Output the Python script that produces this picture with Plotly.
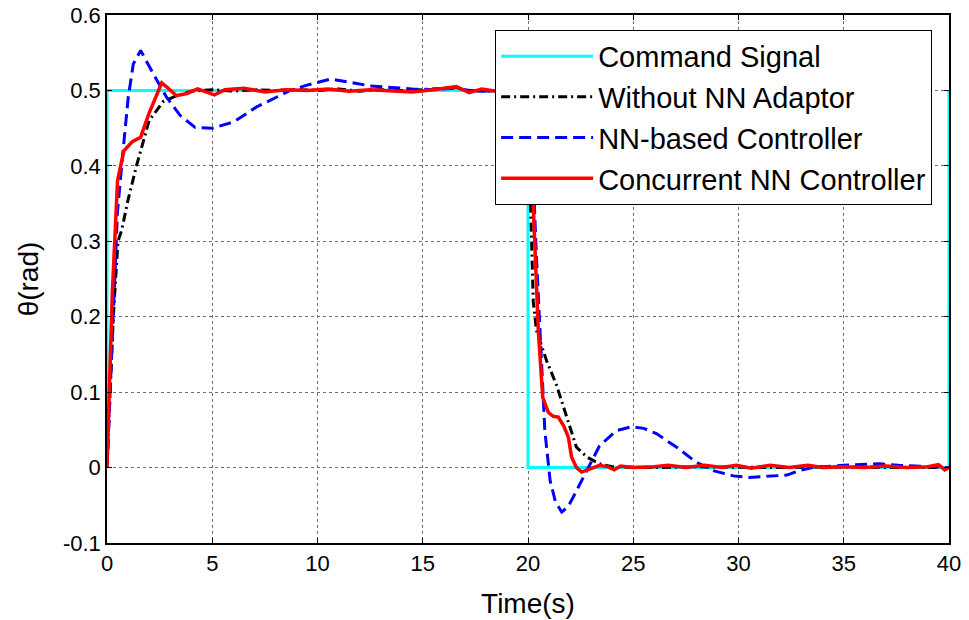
import plotly.graph_objects as go

# ---------------- data ----------------
cmd_t = [0, 0, 20, 20, 40, 40]
cmd_y = [0, 0.5, 0.5, 0, 0, 0.5]

wo_t = [0, 0.15, 0.3, 0.52, 0.7, 1.0, 1.4, 2.0, 2.66, 3.3, 4.0, 5, 6, 7, 8, 9, 10, 11, 12, 13,
        14, 15, 16, 16.6, 17, 18, 19, 19.95, 20.05, 20.15, 20.25, 20.4, 20.88, 21.36, 21.84,
        22.3, 22.8, 23.4, 24, 26, 28, 30, 32, 34, 36, 38, 40]
wo_y = [0, 0.1, 0.2, 0.3, 0.315, 0.355, 0.40, 0.46, 0.485, 0.493, 0.499, 0.501, 0.499, 0.501,
        0.500, 0.501, 0.500, 0.502, 0.499, 0.501, 0.500, 0.501, 0.503, 0.504, 0.500, 0.499,
        0.500, 0.500, 0.42, 0.33, 0.22, 0.182, 0.142, 0.109, 0.067, 0.027, 0.014, 0.005,
        0.001, 0, 0.001, 0, 0, 0.001, 0, 0, 0]

nn_t = [0, 0.3, 0.5, 0.78, 1.01, 1.25, 1.6, 2.2, 2.83, 3.47, 4.18, 5.0, 6.0, 7.1, 8.06, 8.7,
        9.5, 10.6, 11.5, 12.5, 13.5, 14.5, 15.5, 16.5, 17.5, 18.5, 19.5, 20, 20.2, 20.4,
        20.65, 20.8, 21.05, 21.3, 21.6, 21.9, 22.15, 22.8, 23.4, 24.2, 24.9, 25.5, 26.1,
        27.06, 28.0, 28.8, 29.75, 30.5, 31.6, 32.3, 32.9, 33.5, 35, 36.7, 37.6, 39.2, 40]
nn_y = [0, 0.2, 0.34, 0.425, 0.491, 0.535, 0.553, 0.522, 0.491, 0.467, 0.451, 0.45, 0.458,
        0.478, 0.491, 0.5, 0.507, 0.515, 0.511, 0.506, 0.504, 0.502, 0.501, 0.503, 0.499,
        0.5, 0.5, 0.5, 0.42, 0.28, 0.138, 0.049, -0.017, -0.045, -0.059, -0.052, -0.039,
        -0.004, 0.029, 0.049, 0.054, 0.052, 0.045, 0.027, 0.007, -0.004, -0.011, -0.013,
        -0.011, -0.01, -0.004, 0, 0.003, 0.005, 0.003, 0.001, 0]

cc_t = [0, 0.25, 0.5, 0.8, 1.2, 1.6, 2.0, 2.3, 2.6, 2.9, 3.3, 3.8, 4.3, 5.1, 5.6, 6.5, 7.5,
        8.5, 9.5, 10.5, 11.5, 12.5, 13.5, 14.5, 15.5, 16.6, 17.2, 17.8, 18.5, 19.5, 20.0,
        20.1, 20.25, 20.49, 20.7, 20.97, 21.2, 21.44, 21.7, 21.92, 22.07, 22.3, 22.55,
        22.9, 23.4, 23.8, 24.1, 24.4, 25, 26, 26.65, 27.5, 28.4, 29.2, 29.9, 30.6, 31.5,
        32.4, 33.3, 34, 35, 36, 37, 38, 39, 39.5, 39.8, 40]
cc_y = [0, 0.23, 0.38, 0.42, 0.432, 0.438, 0.47, 0.49, 0.51, 0.503, 0.493, 0.496, 0.502,
        0.494, 0.501, 0.503, 0.498, 0.501, 0.500, 0.502, 0.499, 0.501, 0.500, 0.498, 0.501,
        0.505, 0.497, 0.502, 0.499, 0.500, 0.500, 0.45, 0.354, 0.182, 0.093, 0.073, 0.068,
        0.067, 0.055, 0.040, 0.014, 0.0, -0.006, -0.002, 0.003, 0.001, -0.003, 0.002, 0.0,
        0.001, 0.003, 0.0, 0.003, 0.0, 0.003, -0.001, 0.003, 0.0, 0.003, 0.0, 0.001, 0.0,
        0.002, 0.0, 0.001, 0.004, -0.003, 0.0]

x_ticks = [0, 5, 10, 15, 20, 25, 30, 35, 40]
y_ticks = [-0.1, 0, 0.1, 0.2, 0.3, 0.4, 0.5, 0.6]
y_ticktext = ["-0.1", "0", "0.1", "0.2", "0.3", "0.4", "0.5", "0.6"]

FONT = "Arial, 'Liberation Sans', sans-serif"

fig = go.Figure()
fig.add_trace(go.Scatter(x=cmd_t, y=cmd_y, mode="lines", name="Command Signal",
                         line=dict(color="#00FFFF", width=3)))
fig.add_trace(go.Scatter(x=wo_t, y=wo_y, mode="lines", name="Without NN Adaptor",
                         line=dict(color="black", width=3, dash="9px,4px,2px,4px")))
fig.add_trace(go.Scatter(x=nn_t, y=nn_y, mode="lines", name="NN-based Controller",
                         line=dict(color="#0000FF", width=3, dash="12px,6px")))
fig.add_trace(go.Scatter(x=cc_t, y=cc_y, mode="lines", name="Concurrent NN Controller",
                         line=dict(color="#FF0000", width=3.5)))

axis_common = dict(
    showline=True, linecolor="black", linewidth=1.5, mirror="ticks",
    ticks="inside", ticklen=5, tickcolor="black",
    showgrid=True, gridcolor="#6e6e6e", gridwidth=1, griddash="dot",
    zeroline=False, automargin=False,
    tickfont=dict(family=FONT, size=22, color="black"),
)

fig.update_xaxes(range=[0, 40], tickvals=x_ticks,
                 title=dict(text="Time(s)", font=dict(family=FONT, size=28, color="black"),
                            standoff=18),
                 **axis_common)
fig.update_yaxes(range=[-0.1, 0.6], tickvals=y_ticks, ticktext=y_ticktext,
                 title=dict(text="θ(rad)", font=dict(family=FONT, size=28, color="black"),
                            standoff=16),
                 **axis_common)

fig.update_layout(
    width=969, height=620,
    margin=dict(l=107, r=20, t=15, b=77),
    paper_bgcolor="white", plot_bgcolor="white",
    font=dict(family=FONT, color="black"),
    legend=dict(x=0.98, y=0.972, xanchor="right", yanchor="top",
                bgcolor="white", bordercolor="black", borderwidth=1,
                font=dict(family=FONT, size=29, color="black"),
                itemwidth=92, tracegroupgap=0),
)

fig.write_html("out.html", config={"displayModeBar": False},
               post_script="document.body.style.margin='0';document.body.style.overflow='hidden';")
